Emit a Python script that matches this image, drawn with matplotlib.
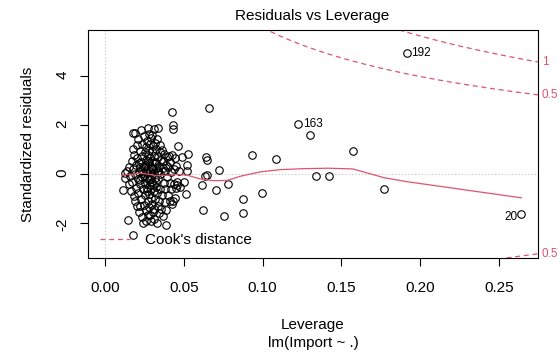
import numpy as np
import matplotlib
matplotlib.use("Agg")
import matplotlib.pyplot as plt
import matplotlib.transforms as mtransforms

plt.rcParams['font.family'] = ['Liberation Sans', 'DejaVu Sans']

# leverage / standardized residual pairs
lev = [0.0112, 0.0125, 0.0130, 0.0140, 0.0148, 0.0150, 0.0155, 0.0160, 0.0162,
       0.0170, 0.0172, 0.0175, 0.0178, 0.0180, 0.0180, 0.0182, 0.0185, 0.0188, 0.0190,
       0.0192, 0.0195, 0.0198, 0.0200, 0.0200,
       0.0205, 0.0207, 0.0210, 0.0212, 0.0215, 0.0218, 0.0220, 0.0222, 0.0225, 0.0226,
       0.0228, 0.0230, 0.0232, 0.0235, 0.0236, 0.0238, 0.0240, 0.0243, 0.0244,
       0.0246, 0.0248, 0.0250, 0.0252, 0.0254, 0.0256, 0.0258, 0.0260, 0.0261, 0.0263,
       0.0265, 0.0266, 0.0268, 0.0270, 0.0271, 0.0272, 0.0274, 0.0275, 0.0277, 0.0278,
       0.0279, 0.0280, 0.0280,
       0.0282, 0.0283, 0.0285, 0.0286, 0.0288, 0.0289, 0.0290, 0.0292, 0.0293, 0.0295,
       0.0296, 0.0297, 0.0299, 0.0300, 0.0301, 0.0303, 0.0305, 0.0306, 0.0308, 0.0310,
       0.0312, 0.0313, 0.0315, 0.0318,
       0.0320, 0.0322, 0.0324, 0.0326, 0.0328, 0.0330, 0.0332, 0.0334, 0.0335, 0.0336,
       0.0338, 0.0340, 0.0342, 0.0345, 0.0347, 0.0349, 0.0350, 0.0352, 0.0355, 0.0358,
       0.0360, 0.0363, 0.0365, 0.0368, 0.0370, 0.0372, 0.0375, 0.0378, 0.0380, 0.0383,
       0.0386, 0.0388, 0.0390, 0.0393, 0.0396,
       0.0400, 0.0403, 0.0406, 0.0410, 0.0412, 0.0415, 0.0418, 0.0420, 0.0424, 0.0425,
       0.0428, 0.0430, 0.0434, 0.0434, 0.0437, 0.0440, 0.0443, 0.0445, 0.0448, 0.0450,
       0.0455, 0.0460, 0.0466, 0.0470, 0.0475,
       0.0490, 0.0500, 0.0515, 0.0520, 0.0520, 0.0525,
       0.0215, 0.0223, 0.0237, 0.0249, 0.0257, 0.0264, 0.0269, 0.0276, 0.0284, 0.0291,
       0.0298, 0.0304, 0.0309, 0.0316, 0.0321, 0.0327, 0.0333, 0.0339, 0.0224, 0.0262,
       0.0287, 0.0311,
       0.0614, 0.0620, 0.0635, 0.0642, 0.0646, 0.0650, 0.0663, 0.0705, 0.0726, 0.0758,
       0.0784, 0.0879, 0.0879, 0.0932, 0.0999, 0.1087, 0.1228, 0.1302, 0.1339, 0.1419,
       0.1574, 0.1773, 0.1917, 0.2643]
res = [-0.63, 0.05, -0.15, 0.12, -1.87, -0.40, 0.30, -0.05, -0.70,
       0.55, -0.30, 1.05, 0.20, 1.69, -2.47, -0.90, 0.80, -1.10, 1.67,
       0.00, -0.55, 0.40, -1.30, 1.20,
       0.65, -0.20, 1.45, -0.75, 0.10, -1.55, 0.95, -0.40, 0.30, 1.80,
       -1.00, 0.50, -0.10, -1.75, 1.25, 0.75, -0.60, -2.00, 0.05,
       1.55, -1.25, 0.35, -0.35, 0.90, -0.85, 1.10, -1.45, 0.15, 0.60,
       -0.15, 1.35, -0.55, 1.90, -1.10, 0.25, 0.80, -1.65, -0.25, 1.00,
       0.45, -0.80, 1.65,
       -1.35, 0.10, 1.25, -0.45, 0.65, -1.90, 0.30, 1.50, -0.95, -0.05,
       0.95, 1.60, -1.20, 0.55, -0.30, 1.15, -1.55, 0.20, 1.85, -0.70,
       0.75, -1.83, -0.15, 1.30,
       -1.00, 0.45, 1.05, -0.50, -2.00, 0.10, 1.45, -1.30, 1.90, 0.70,
       -0.20, -1.60, 0.35, -1.07, 0.90, -0.60, 1.20, 0.00, -1.40, 0.60,
       -0.85, 1.00, 0.25, -1.70, 0.55, -0.35, 0.85, -1.15, 0.15, -0.60,
       -2.06, 0.40, -1.45, 0.70, -0.10,
       -0.85, 0.30, 0.75, -1.10, -0.35, 0.50, -0.60, 0.10, 2.55, -1.20,
       0.80, 2.00, 1.87, -1.07, -0.40, 0.20, 0.65, -0.97, -0.55, 0.35,
       -0.30, -0.45, 1.15, 0.15, -0.50,
       0.70, -0.30, -0.79, 0.37, 0.15, 0.85,
       0.45, -0.25, 0.15, -0.05, 0.40, -0.70, 0.05, 0.55, -0.20, -0.60,
       0.25, -0.45, 0.05, 0.50, -0.30, 0.25, -0.75, 0.15, -1.30, -1.90,
       -1.65, -1.40,
       -0.45, -1.45, -0.08, 0.71, -0.04, 0.57, 2.72, -0.63, 0.19, -1.72,
       -0.38, -1.02, -1.58, 0.78, -0.77, 0.64, 2.05, 1.60, -0.08, -0.07,
       0.96, -0.59, 4.97, -1.63]

# labelled observations
id_lev = [0.1917, 0.1228, 0.2643]
id_res = [4.97, 2.05, -1.63]
id_txt = ["192", "163", "20"]

# smoother
smooth_x = [0.0106, 0.016, 0.0222, 0.028, 0.0328, 0.040, 0.0466, 0.053, 0.060,
            0.069, 0.0775, 0.0858, 0.0985, 0.111, 0.125, 0.1419, 0.1574, 0.1773,
            0.1917, 0.2643]
smooth_y = [-0.04, 0.0, 0.05, 0.0, -0.06, -0.03, 0.0, -0.05, -0.18,
            -0.26, -0.25, -0.08, 0.10, 0.19, 0.23, 0.25, 0.22, -0.14,
            -0.30, -0.96]

n_par = 8
cook_levels = [0.5, 1.0]
red = "#DF536B"

fig = plt.figure(figsize=(5.6, 3.55), dpi=100)
ax = fig.add_axes([88 / 560, 97 / 355, 450 / 560, 228 / 355])
xlim = (-0.0108, 0.2749)
ylim = (-3.42, 5.90)
ax.set_xlim(xlim)
ax.set_ylim(ylim)

ax.axhline(0, color="#BEBEBE", lw=0.8, ls=(0, (1, 2)), zorder=1)
ax.axvline(0, color="#BEBEBE", lw=0.8, ls=(0, (1, 2)), zorder=1)

ax.plot(lev, res, 'o', mfc='none', mec='black', ms=5.4, mew=0.8, zorder=3)
ax.plot(smooth_x, smooth_y, color=red, lw=0.9, zorder=4)

# Cook's distance contours
hh = np.linspace(0.0005, xlim[1], 200)
for i, c in enumerate(cook_levels):
    cl = np.sqrt(c * n_par * (1 - hh) / hh)
    ax.plot(hh, cl, color=red, lw=0.9, ls=(0, (4, 3)), zorder=2,
            label="Cook's distance" if i == 0 else None)
    ax.plot(hh, -cl, color=red, lw=0.9, ls=(0, (4, 3)), zorder=2)

# right-hand labels for the contours
trans = mtransforms.blended_transform_factory(ax.transAxes, ax.transData)
xmax = xlim[1]
for c in cook_levels:
    a = np.sqrt(c * n_par * (1 - xmax) / xmax)
    for yv in (a, -a):
        if ylim[0] < yv < ylim[1]:
            ax.text(1.008, yv, "%g" % c, transform=trans, color=red, fontsize=8.5,
                    ha='left', va='center', clip_on=False)

for x, y, t in zip(id_lev, id_res, id_txt):
    if t == "20":
        ax.annotate(t, (x, y), xytext=(-3, -2), textcoords='offset points',
                    ha='right', va='center', fontsize=8.5)
    else:
        ax.annotate(t, (x, y), xytext=(3, 0), textcoords='offset points',
                    ha='left', va='center', fontsize=8.5)

leg = ax.legend(loc='lower left', bbox_to_anchor=(0.004, 0.0), frameon=False,
                fontsize=11, handlelength=1.9, handletextpad=1.0,
                borderaxespad=0.3)

ax.set_xticks([0.0, 0.05, 0.10, 0.15, 0.20, 0.25])
ax.set_xticklabels(["0.00", "0.05", "0.10", "0.15", "0.20", "0.25"])
ax.set_yticks([-2, 0, 2, 4])
ax.set_yticklabels(["-2", "0", "2", "4"])
ax.tick_params(axis='both', direction='out', length=5.5, width=0.8, labelsize=11)
ax.tick_params(axis='x', pad=11)
ax.tick_params(axis='y', pad=8, labelrotation=90)
for s in ax.spines.values():
    s.set_linewidth(0.8)

fig.text(312.5 / 560, 1 - 16 / 355, "Residuals vs Leverage", ha='center', va='center', fontsize=11)
fig.text(313 / 560, 1 - 325 / 355, "Leverage", ha='center', va='center', fontsize=11)
fig.text(313 / 560, 1 - 343 / 355, "lm(Import ~ .)", ha='center', va='center', fontsize=11)
fig.text(28 / 560, 1 - 144 / 355, "Standardized residuals", ha='center', va='center',
         rotation=90, fontsize=11)

fig.savefig("out.png", dpi=100)
